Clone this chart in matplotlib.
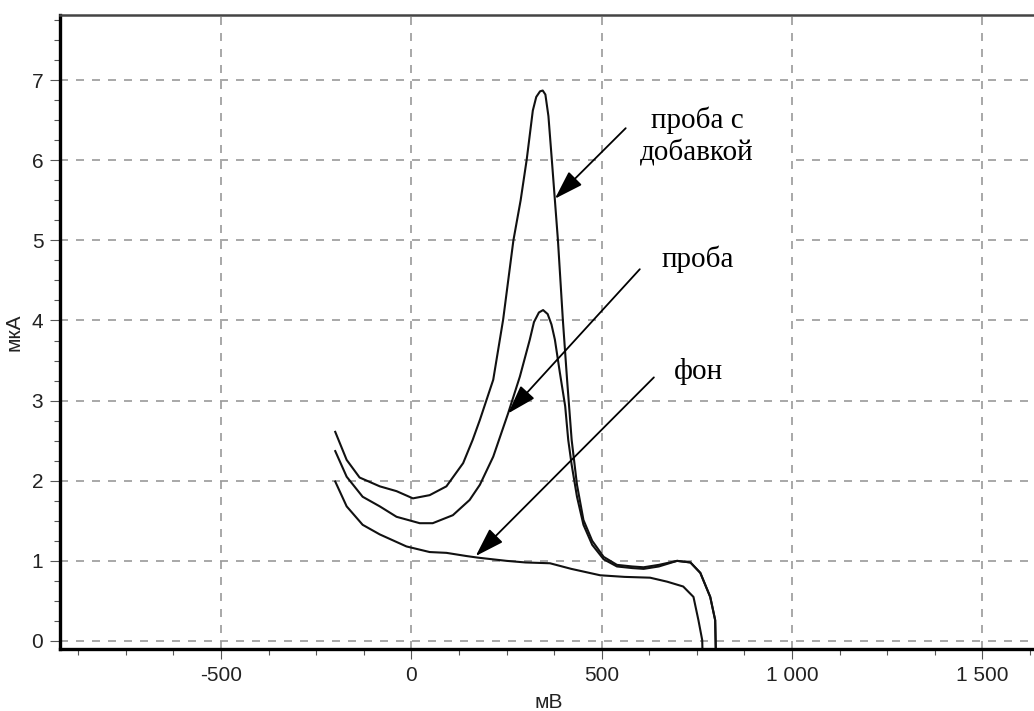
import matplotlib.pyplot as plt
from matplotlib.ticker import MultipleLocator, FuncFormatter
from matplotlib.patches import Rectangle

# background curve (фон), mV / мкА
fon_x = [-200, -170, -128, -83, -13, 48, 92, 145, 175, 250, 300, 364, 420, 496,
         560, 627, 672, 714, 741, 754, 764, 765]
fon_y = [1.99, 1.68, 1.45, 1.33, 1.18, 1.11, 1.10, 1.06, 1.04, 1.00, 0.98, 0.97,
         0.90, 0.82, 0.80, 0.79, 0.74, 0.68, 0.55, 0.26, 0.01, -0.2]

# sample (проба)
proba_x = [-200, -170, -128, -83, -39, 22, 56, 109, 153, 180, 215, 254, 285, 311,
           322, 335, 346, 358, 368, 377, 390, 404, 412, 421, 435, 452, 475, 505,
           540, 580, 610, 650, 698, 733, 759, 785, 798, 800]
proba_y = [2.37, 2.05, 1.80, 1.68, 1.55, 1.47, 1.47, 1.57, 1.76, 1.95, 2.30, 2.84,
           3.30, 3.76, 3.98, 4.10, 4.13, 4.08, 3.95, 3.76, 3.35, 2.93, 2.51, 2.20,
           1.80, 1.45, 1.20, 1.02, 0.93, 0.91, 0.90, 0.93, 1.00, 0.98, 0.85, 0.55,
           0.26, -0.2]

# sample with addition (проба с добавкой)
dob_x = [-200, -170, -136, -83, -39, 4, 48, 92, 136, 161, 180, 215, 241, 268, 287,
         303, 319, 328, 338, 345, 352, 360, 369, 377, 385, 398, 409, 421, 435, 452,
         475, 505, 540, 580, 610, 650, 698, 733, 759, 785, 798, 800]
dob_y = [2.61, 2.26, 2.04, 1.93, 1.87, 1.78, 1.82, 1.93, 2.22, 2.51, 2.76, 3.26,
         4.01, 5.00, 5.50, 6.01, 6.62, 6.79, 6.86, 6.87, 6.82, 6.55, 6.00, 5.50,
         5.00, 4.00, 3.26, 2.51, 1.95, 1.51, 1.25, 1.05, 0.95, 0.93, 0.92, 0.95,
         1.00, 0.98, 0.85, 0.55, 0.26, -0.2]

# annotation labels: text, text centre, arrow start, arrow tip
labels = ['проба с\nдобавкой', 'проба', 'фон']
label_pos = [(750, 6.30), (753, 4.76), (753, 3.36)]
arrow_from = [(563, 6.40), (600, 4.64), (637, 3.29)]
arrow_to = [(377, 5.52), (254, 2.84), (169, 1.06)]

fig = plt.figure(figsize=(10.34, 7.11), dpi=100)
ax = fig.add_axes([60 / 1034, 62 / 711, 978 / 1034, 634 / 711])

ax.set_xlim(-923, 1646)
ax.set_ylim(-0.1, 7.8125)

ax.set_axisbelow(True)
ax.grid(True, which='major', color='#9a9a9a', linestyle=(0, (4.8, 4.8)), lw=1.2)

# white area behind the annotations hides some grid segments
ax.add_patch(Rectangle((505, 3.55), 490, 2.9, facecolor='white', edgecolor='none', zorder=0.7))

for xs, ys in [(fon_x, fon_y), (proba_x, proba_y), (dob_x, dob_y)]:
    ax.plot(xs, ys, color='#111111', lw=1.5, zorder=2)

for txt, pos, a, b in zip(labels, label_pos, arrow_from, arrow_to):
    ax.annotate('', xy=b, xytext=a,
                arrowprops=dict(arrowstyle='-|>,head_length=0.9,head_width=0.29',
                                mutation_scale=20, color='black', lw=1.3,
                                shrinkA=0, shrinkB=0), zorder=3)
    ax.text(pos[0], pos[1], txt, ha='center', va='center', fontsize=21,
            family=['Liberation Serif', 'DejaVu Serif'], linespacing=1.25, zorder=3)

ax.xaxis.set_major_locator(MultipleLocator(500))
ax.xaxis.set_minor_locator(MultipleLocator(125))
ax.yaxis.set_major_locator(MultipleLocator(1))
ax.yaxis.set_minor_locator(MultipleLocator(0.25))
ax.xaxis.set_major_formatter(FuncFormatter(lambda v, p: f"{int(round(v)):,}".replace(",", " ")))
ax.yaxis.set_major_formatter(FuncFormatter(lambda v, p: f"{int(round(v))}"))

ax.tick_params(which='major', direction='out', length=7, width=0.8, color='#555555',
               labelsize=15, labelcolor='#222222', pad=5)
ax.tick_params(which='minor', direction='out', length=4, width=0.8, color='#555555')
for lab in ax.get_xticklabels() + ax.get_yticklabels():
    lab.set_family(['Liberation Sans', 'DejaVu Sans'])

ax.spines['left'].set_linewidth(2.4)
ax.spines['bottom'].set_linewidth(2.4)
ax.spines['left'].set_color('black')
ax.spines['bottom'].set_color('black')
ax.spines['top'].set_linewidth(1.8)
ax.spines['top'].set_color('#444444')
ax.spines['right'].set_visible(False)

ax.set_xlabel('мВ', fontsize=15, family=['Liberation Sans', 'DejaVu Sans'],
              color='#222222', labelpad=6)
ax.set_ylabel('мкА', fontsize=15, family=['Liberation Sans', 'DejaVu Sans'],
              color='#222222', labelpad=6)

fig.savefig('out.png', dpi=100)
